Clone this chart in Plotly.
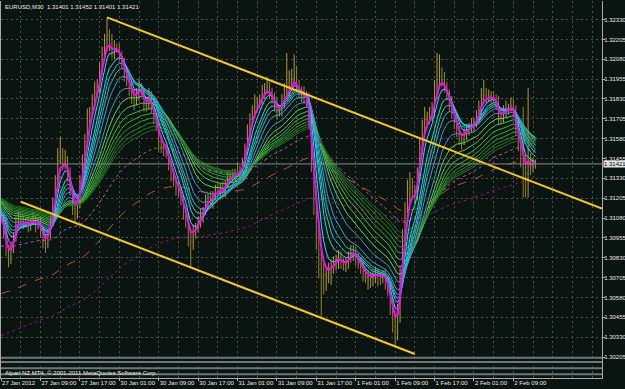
import plotly.graph_objects as go

# ---------------- data (EURUSD M30) ----------------
time_labels = ["27 Jan 2012", "27 Jan 09:00", "27 Jan 17:00", "30 Jan 01:00", "30 Jan 09:00",
               "30 Jan 17:00", "31 Jan 01:00", "31 Jan 09:00", "31 Jan 17:00", "1 Feb 01:00",
               "1 Feb 09:00", "1 Feb 17:00", "2 Feb 01:00", "2 Feb 09:00"]
label_bars = [0, 16, 32, 48, 64, 80, 96, 112, 128, 144, 160, 176, 192, 208]

first_open = 1.31120
close = [
    1.31080, 1.30990, 1.30870, 1.30820, 1.30880, 1.30960, 1.31040, 1.31090, 1.31060, 1.31040,
    1.31050, 1.31030, 1.31060, 1.31070, 1.31040, 1.31060, 1.31000, 1.30940, 1.30920, 1.30980,
    1.31060, 1.31150, 1.31300, 1.31440, 1.31470, 1.31420, 1.31440, 1.31360, 1.31250, 1.31140,
    1.31110, 1.31180, 1.31300, 1.31420, 1.31560, 1.31690, 1.31740, 1.31800, 1.31870, 1.31900,
    1.32000, 1.32110, 1.32160, 1.32230, 1.32180, 1.32120, 1.32150, 1.32140, 1.32100, 1.32060,
    1.31980, 1.31940, 1.31900, 1.31840, 1.31820, 1.31860, 1.31900, 1.31880, 1.31800, 1.31790,
    1.31850, 1.31780, 1.31720, 1.31660, 1.31560, 1.31530, 1.31520, 1.31490, 1.31420, 1.31360,
    1.31320, 1.31270, 1.31240, 1.31200, 1.31120, 1.31080, 1.30980, 1.30930, 1.30990, 1.31020,
    1.31060, 1.31100, 1.31130, 1.31180, 1.31210, 1.31190, 1.31230, 1.31260, 1.31240, 1.31270,
    1.31250, 1.31290, 1.31330, 1.31350, 1.31340, 1.31370, 1.31360, 1.31380, 1.31420, 1.31500,
    1.31610, 1.31700, 1.31740, 1.31780, 1.31800, 1.31830, 1.31860, 1.31880, 1.31900, 1.31870,
    1.31830, 1.31790, 1.31750, 1.31760, 1.31800, 1.31850, 1.31880, 1.31910, 1.31950, 1.31960,
    1.31900, 1.31870, 1.31840, 1.31850, 1.31830, 1.31700, 1.31450, 1.31200, 1.31000, 1.30850,
    1.30760, 1.30720, 1.30730, 1.30740, 1.30780, 1.30790, 1.30820, 1.30840, 1.30810, 1.30790,
    1.30800, 1.30830, 1.30860, 1.30870, 1.30840, 1.30800, 1.30780, 1.30740, 1.30710, 1.30720,
    1.30700, 1.30710, 1.30730, 1.30720, 1.30710, 1.30720, 1.30690, 1.30640, 1.30540, 1.30440,
    1.30400, 1.30480, 1.30700, 1.30960, 1.31120, 1.31200, 1.31270, 1.31250, 1.31230, 1.31350,
    1.31520, 1.31650, 1.31700, 1.31710, 1.31720, 1.31760, 1.31860, 1.31920, 1.31970, 1.31950,
    1.31900, 1.31860, 1.31800, 1.31740, 1.31680, 1.31640, 1.31580, 1.31570, 1.31610, 1.31640,
    1.31650, 1.31670, 1.31680, 1.31710, 1.31760, 1.31830, 1.31850, 1.31840, 1.31850, 1.31840,
    1.31830, 1.31800, 1.31720, 1.31710, 1.31750, 1.31760, 1.31770, 1.31790, 1.31760, 1.31650,
    1.31560, 1.31480, 1.31400, 1.31360, 1.31440, 1.31410, 1.31430, 1.31421,
]
# wick above max(open, close) and below min(open, close), in pips
hi_pips = [
    3, 2, 2, 3, 4, 3, 5, 3, 2, 4,
    3, 4, 2, 5, 3, 2, 3, 2, 4, 3,
    4, 6, 5, 8, 12, 5, 7, 3, 4, 3,
    2, 4, 5, 6, 5, 8, 4, 6, 7, 5,
    6, 5, 8, 11, 4, 6, 5, 3, 4, 3,
    3, 4, 2, 3, 5, 4, 6, 3, 2, 4,
    5, 3, 4, 2, 3, 4, 2, 3, 3, 2,
    3, 2, 4, 3, 2, 3, 4, 2, 5, 3,
    3, 4, 2, 5, 3, 4, 2, 3, 4, 3,
    4, 3, 5, 3, 4, 2, 6, 3, 4, 5,
    6, 4, 5, 8, 4, 3, 6, 5, 7, 4,
    3, 4, 5, 3, 6, 8, 24, 10, 7, 15,
    8, 5, 4, 6, 3, 4, 3, 4, 5, 6,
    5, 4, 3, 6, 4, 5, 3, 4, 3, 2,
    3, 4, 5, 4, 3, 2, 3, 4, 2, 3,
    2, 3, 4, 3, 2, 3, 4, 2, 3, 4,
    3, 6, 8, 5, 6, 12, 10, 6, 4, 5,
    6, 5, 8, 4, 6, 5, 9, 20, 14, 6,
    5, 4, 3, 5, 3, 4, 2, 3, 4, 3,
    3, 4, 3, 5, 6, 7, 10, 5, 4, 3,
    4, 3, 5, 3, 4, 6, 3, 5, 4, 3,
    4, 6, 30, 8, 46, 5, 3, 2,
]
lo_pips = [
    3, 4, 3, 5, 3, 2, 3, 2, 4, 3,
    2, 4, 3, 2, 5, 3, 4, 5, 6, 3,
    3, 2, 4, 3, 2, 4, 3, 5, 3, 4,
    6, 3, 4, 2, 3, 4, 3, 2, 4, 3,
    3, 2, 4, 3, 5, 3, 4, 2, 3, 4,
    4, 3, 5, 4, 6, 3, 4, 3, 5, 4,
    3, 4, 5, 3, 6, 4, 5, 3, 4, 5,
    4, 5, 3, 4, 5, 6, 8, 16, 5, 4,
    3, 4, 5, 3, 4, 3, 5, 4, 3, 4,
    3, 4, 2, 3, 4, 3, 2, 4, 3, 2,
    2, 3, 4, 3, 2, 3, 4, 3, 2, 4,
    3, 4, 5, 3, 4, 3, 2, 4, 3, 3,
    3, 4, 3, 4, 5, 6, 8, 10, 12, 15,
    30, 12, 10, 6, 8, 5, 4, 6, 5, 4,
    5, 4, 3, 5, 6, 4, 5, 6, 4, 8,
    6, 5, 4, 7, 5, 4, 6, 5, 7, 8,
    13, 9, 6, 4, 5, 3, 4, 5, 6, 4,
    3, 4, 3, 5, 4, 3, 4, 3, 2, 4,
    3, 4, 5, 3, 4, 5, 4, 6, 3, 4,
    4, 3, 5, 3, 4, 3, 2, 4, 3, 4,
    3, 4, 5, 4, 3, 4, 3, 2, 4, 5,
    6, 8, 19, 15, 15, 6, 4, 3,
]

# moving-average ribbons: periods and starting values at the left edge
fast_period, fast_seed = 3, 1.31100
cyan_periods = [5, 8, 10, 12, 15, 20]
cyan_seeds = [1.31110, 1.31120, 1.31130, 1.31140, 1.31150, 1.31160]
green_periods = [25, 30, 35, 40, 45, 50, 55, 60]
green_seeds = [1.31170, 1.31180, 1.31185, 1.31190, 1.31195, 1.31200, 1.31205, 1.31210]
slow_periods = [75, 120, 200]
slow_seeds = [1.30898, 1.30596, 1.30332]

# hand-drawn trend lines (bar index, price)
upper_line_x, upper_line_y = [43, 244], [1.32344, 1.31140]
lower_line_x, lower_line_y = [8, 168], [1.31183, 1.30224]

bottom_levels = [1.30201, 1.30173, 1.30135, 1.30097]

price_ticks = [round(1.30205 + 0.00125 * k, 5) for k in range(18)]

# ---------------- helpers ----------------
def ema(series, period, seed):
    a = 2.0 / (period + 1)
    v, out = seed, []
    for c in series:
        v = v + a * (c - v)
        out.append(v)
    return out

n = len(close)
idx = list(range(n))
opens = [first_open] + close[:-1]
highs = [max(o, c) + h * 1e-4 for o, c, h in zip(opens, close, hi_pips)]
lows = [min(o, c) - l * 1e-4 for o, c, l in zip(opens, close, lo_pips)]

X_RANGE = [-0.05, 244.0]
Y_RANGE = [1.30073, 1.32447]
BG = "#0a1410"
FONT = "Liberation Sans, Arial, sans-serif"
FS = 6

fig = go.Figure()

# slow averages
slow_styles = [("#b85a98", "dot"), ("#c0502c", "dash"), ("#8a1a66", "dot")]
for p, s, (col, dash) in zip(slow_periods, slow_seeds, slow_styles):
    fig.add_trace(go.Scatter(x=idx, y=ema(close, p, s), mode="lines",
                             line=dict(color=col, width=1, dash=dash), hoverinfo="skip"))

# bars
fig.add_trace(go.Ohlc(x=idx, open=opens, high=highs, low=lows, close=close,
                      increasing=dict(line=dict(color="#b89c14", width=1)),
                      decreasing=dict(line=dict(color="#988416", width=1)),
                      tickwidth=0.25, hoverinfo="skip"))

# long ribbon (greens)
green_cols = ["#5ad65a", "#4cc84c", "#40b840", "#36a836", "#2e982e", "#268826", "#207a20", "#1a6c1a"]
for p, s, col in zip(green_periods, green_seeds, green_cols):
    fig.add_trace(go.Scatter(x=idx, y=ema(close, p, s), mode="lines",
                             line=dict(color=col, width=1), hoverinfo="skip"))

# short ribbon (cyans)
cyan_cols = ["#00f4f0", "#10e0e0", "#20c8d8", "#2ab4d0", "#32a4d0", "#3a94cc"]
for p, s, col in zip(cyan_periods, cyan_seeds, cyan_cols):
    fig.add_trace(go.Scatter(x=idx, y=ema(close, p, s), mode="lines",
                             line=dict(color=col, width=1), hoverinfo="skip"))

# fastest average
fig.add_trace(go.Scatter(x=idx, y=ema(close, fast_period, fast_seed), mode="lines",
                         line=dict(color="#ff00ff", width=2), hoverinfo="skip"))

# trend lines (upper one is a ray to the right edge)
slope_u = (upper_line_y[1] - upper_line_y[0]) / (upper_line_x[1] - upper_line_x[0])
ux = [upper_line_x[0], X_RANGE[1]]
uy = [upper_line_y[0], upper_line_y[0] + slope_u * (X_RANGE[1] - upper_line_x[0])]
for xs, ys in [(ux, uy), (lower_line_x, lower_line_y)]:
    fig.add_trace(go.Scatter(x=xs, y=ys, mode="lines",
                             line=dict(color="#f8c822", width=2), hoverinfo="skip"))

# current price line
fig.add_trace(go.Scatter(x=X_RANGE, y=[close[-1], close[-1]], mode="lines",
                         line=dict(color="#8a8a86", width=1), hoverinfo="skip"))

shapes = [dict(type="line", xref="paper", x0=0, x1=1, yref="y", y0=lv, y1=lv,
               line=dict(color="#6d7876", width=2), layer="above") for lv in bottom_levels]

annotations = [
    dict(text="EURUSD,M30  1.31401 1.31452 1.31401 1.31421", xref="paper", yref="paper",
         x=0.004, y=0.997, xanchor="left", yanchor="top", showarrow=False,
         font=dict(size=FS, color="#e8e8e8", family=FONT)),
    dict(text="Alpari NZ MT4, © 2001-2011 MetaQuotes Software Corp.", xref="paper", yref="paper",
         x=0.004, y=0.012, xanchor="left", yanchor="middle", showarrow=False,
         font=dict(size=FS, color="#e8e8e8", family=FONT)),
    dict(text="%.5f" % close[-1], xref="paper", yref="y", x=1.0, y=close[-1],
         xanchor="left", yanchor="middle", xshift=1, showarrow=False, bgcolor="#e4e4e4",
         borderpad=0, font=dict(size=FS, color="#000000", family=FONT)),
]

fig.update_layout(
    width=625, height=389,
    margin=dict(l=1, r=23, t=1, b=11, autoexpand=False),
    paper_bgcolor=BG, plot_bgcolor=BG,
    showlegend=False,
    font=dict(family=FONT, size=FS, color="#e8e8e8"),
    shapes=shapes, annotations=annotations,
    xaxis=dict(range=X_RANGE, rangeslider=dict(visible=False),
               tickmode="array", tickvals=label_bars, ticktext=time_labels,
               tickangle=0, ticklabelposition="outside right", ticks="outside", ticklen=2,
               ticklabelstandoff=-1,
               tickcolor="#b0b0b0", showline=True, linecolor="#a8a8a8", linewidth=1,
               showgrid=True, gridcolor="#4a524f", griddash="2px,3px", gridwidth=1,
               minor=dict(tickmode="linear", tick0=0, dtick=8, showgrid=True,
                          gridcolor="#4a524f", griddash="2px,3px", ticks=""),
               zeroline=False, automargin=False, fixedrange=True),
    yaxis=dict(range=Y_RANGE, side="right", tickmode="array", tickvals=price_ticks,
               ticktext=["%.5f" % v for v in price_ticks], ticks="outside", ticklen=2,
               ticklabelstandoff=-2,
               tickcolor="#b0b0b0", showline=True, mirror=True, linecolor="#a8a8a8", linewidth=1,
               showgrid=True, gridcolor="#4a524f", griddash="2px,3px", gridwidth=1,
               zeroline=False, automargin=False, fixedrange=True),
)

fig.write_html("out.html")
